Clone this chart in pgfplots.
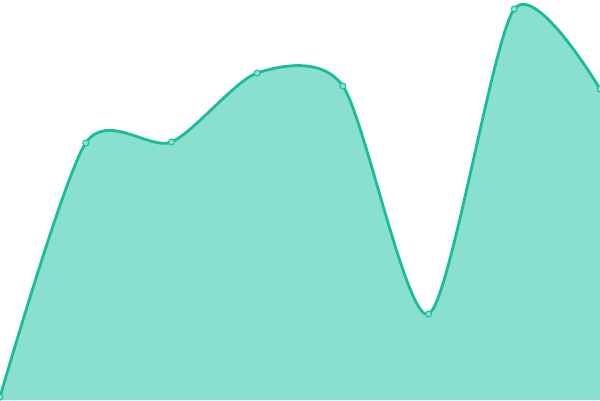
\documentclass[border=0pt]{standalone}
\usepackage{pgfplots}
\pgfplotsset{compat=1.18}
\definecolor{lineteal}{HTML}{1ABC9C}
\definecolor{fillteal}{HTML}{89E0CF}
\begin{document}
\begin{tikzpicture}
\begin{axis}[hide axis,scale only axis,width=9cm,height=6cm,
  xmin=0,xmax=7,ymin=0,ymax=400,clip=true,clip marker paths=true]
\addplot[draw=none,fill=fillteal,smooth,tension=0.45]coordinates{(0,3)(1,257)(2,258)(3,327)(4,314)(5,86)(6,391)(7,311)}\closedcycle;
\addplot[color=lineteal,line width=1.2pt,smooth,tension=0.45,mark=*,mark size=1.3pt,mark options={fill=fillteal,draw=lineteal,line width=0.4pt}]coordinates{(0,3)(1,257)(2,258)(3,327)(4,314)(5,86)(6,391)(7,311)};
\end{axis}
\end{tikzpicture}
\end{document}
